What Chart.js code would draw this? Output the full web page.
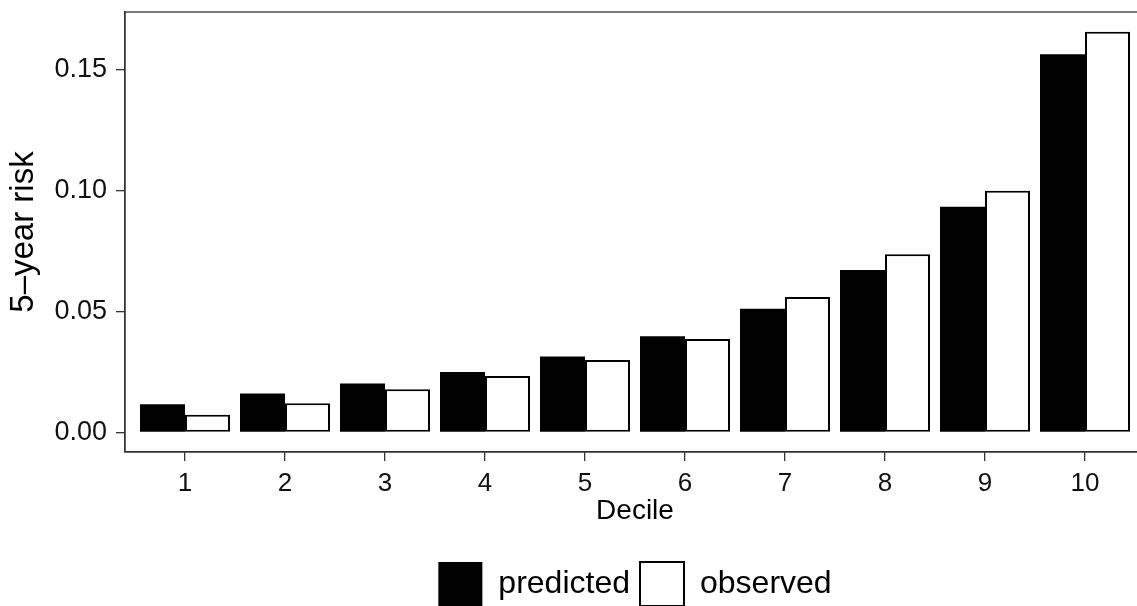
<!DOCTYPE html>
<html>
<head>
<meta charset="utf-8">
<script src="https://cdn.jsdelivr.net/npm/chart.js@4"></script>
<style>
  html, body { margin: 0; padding: 0; background: #fff; overflow: hidden; }
</style>
</head>
<body>
<canvas id="chartRisk" width="1150" height="616"></canvas>
<script>
// values
const deciles = [1, 2, 3, 4, 5, 6, 7, 8, 9, 10];
const predicted = [0.0116, 0.0161, 0.0202, 0.0250, 0.0314, 0.0397, 0.0511, 0.0671, 0.0932, 0.1562];
const observed = [0.0073, 0.0120, 0.0178, 0.0233, 0.0299, 0.0386, 0.0559, 0.0736, 0.0998, 0.1655];
const yTicks = [0, 0.05, 0.10, 0.15];
const yTickLabels = ['0.00', '0.05', '0.10', '0.15'];

const sansFont = "'Liberation Sans', Arial, sans-serif";
const narrowFont = "'Liberation Sans Narrow', 'Liberation Sans', Arial, sans-serif";
Chart.defaults.font.family = sansFont;
Chart.defaults.color = '#000';

// ggplot-style box round the panel
const panelFrame = {
  id: 'panelFrame',
  afterDraw(chart) {
    const a = chart.chartArea;
    const ctx = chart.ctx;
    ctx.save();
    ctx.strokeStyle = '#333';
    ctx.lineWidth = 1.3;
    ctx.strokeRect(a.left, a.top, a.right - a.left, a.bottom - a.top);
    ctx.restore();
  }
};

const ctxRisk = document.getElementById('chartRisk').getContext('2d');

new Chart(ctxRisk, {
  type: 'bar',
  data: {
    datasets: [{
      label: 'predicted',
      data: deciles.map((d, i) => ({ x: d, y: predicted[i] })),
      backgroundColor: '#000',
      borderColor: '#000',
      borderWidth: 0
    }, {
      label: 'observed',
      data: deciles.map((d, i) => ({ x: d, y: observed[i] })),
      backgroundColor: '#fff',
      borderColor: '#000',
      borderWidth: 2,
      borderSkipped: false
    }]
  },
  options: {
    responsive: false,
    animation: false,
    categoryPercentage: 0.9,
    barPercentage: 1.0,
    layout: { padding: { top: 12, right: 5, bottom: 0, left: 0 } },
    plugins: {
      tooltip: { enabled: false },
      legend: {
        position: 'bottom',
        fullSize: false,
        labels: {
          boxWidth: 44,
          boxHeight: 44,
          padding: 10,
          font: { size: 32 },
          color: '#000'
        }
      }
    },
    scales: {
      x: {
        type: 'linear',
        min: 0.4,
        max: 10.6,
        offset: false,
        afterBuildTicks: scale => { scale.ticks = deciles.map(v => ({ value: v })); },
        afterFit: scale => { scale.height = 100; scale.paddingLeft = 0; scale.paddingRight = 0; },
        grid: { display: true, drawOnChartArea: false, offset: false, tickLength: 9, color: '#333', lineWidth: 1.3 },
        border: { display: true, color: '#333', width: 1.3 },
        ticks: {
          padding: 7,
          font: { size: 26, family: narrowFont },
          color: '#111',
          callback: v => String(deciles[deciles.indexOf(v)])
        },
        title: { display: true, text: 'Decile', font: { size: 28, family: narrowFont }, color: '#000', padding: { top: 0, bottom: 24 } }
      },
      y: {
        min: -0.0081,
        max: 0.1737,
        afterBuildTicks: scale => { scale.ticks = yTicks.map(v => ({ value: v })); },
        afterFit: scale => { scale.width = 125; scale.paddingTop = 0; scale.paddingBottom = 0; },
        grid: { display: true, drawOnChartArea: false, tickLength: 9, color: '#333', lineWidth: 1.3 },
        border: { display: true, color: '#333', width: 1.3 },
        ticks: {
          padding: 9,
          font: { size: 27 },
          color: '#111',
          callback: v => yTickLabels[yTicks.indexOf(v)]
        },
        title: { display: true, text: '5–year risk', font: { size: 33 }, color: '#000', padding: { top: 4, bottom: 0 } }
      }
    }
  },
  plugins: [panelFrame]
});
</script>
</body>
</html>
